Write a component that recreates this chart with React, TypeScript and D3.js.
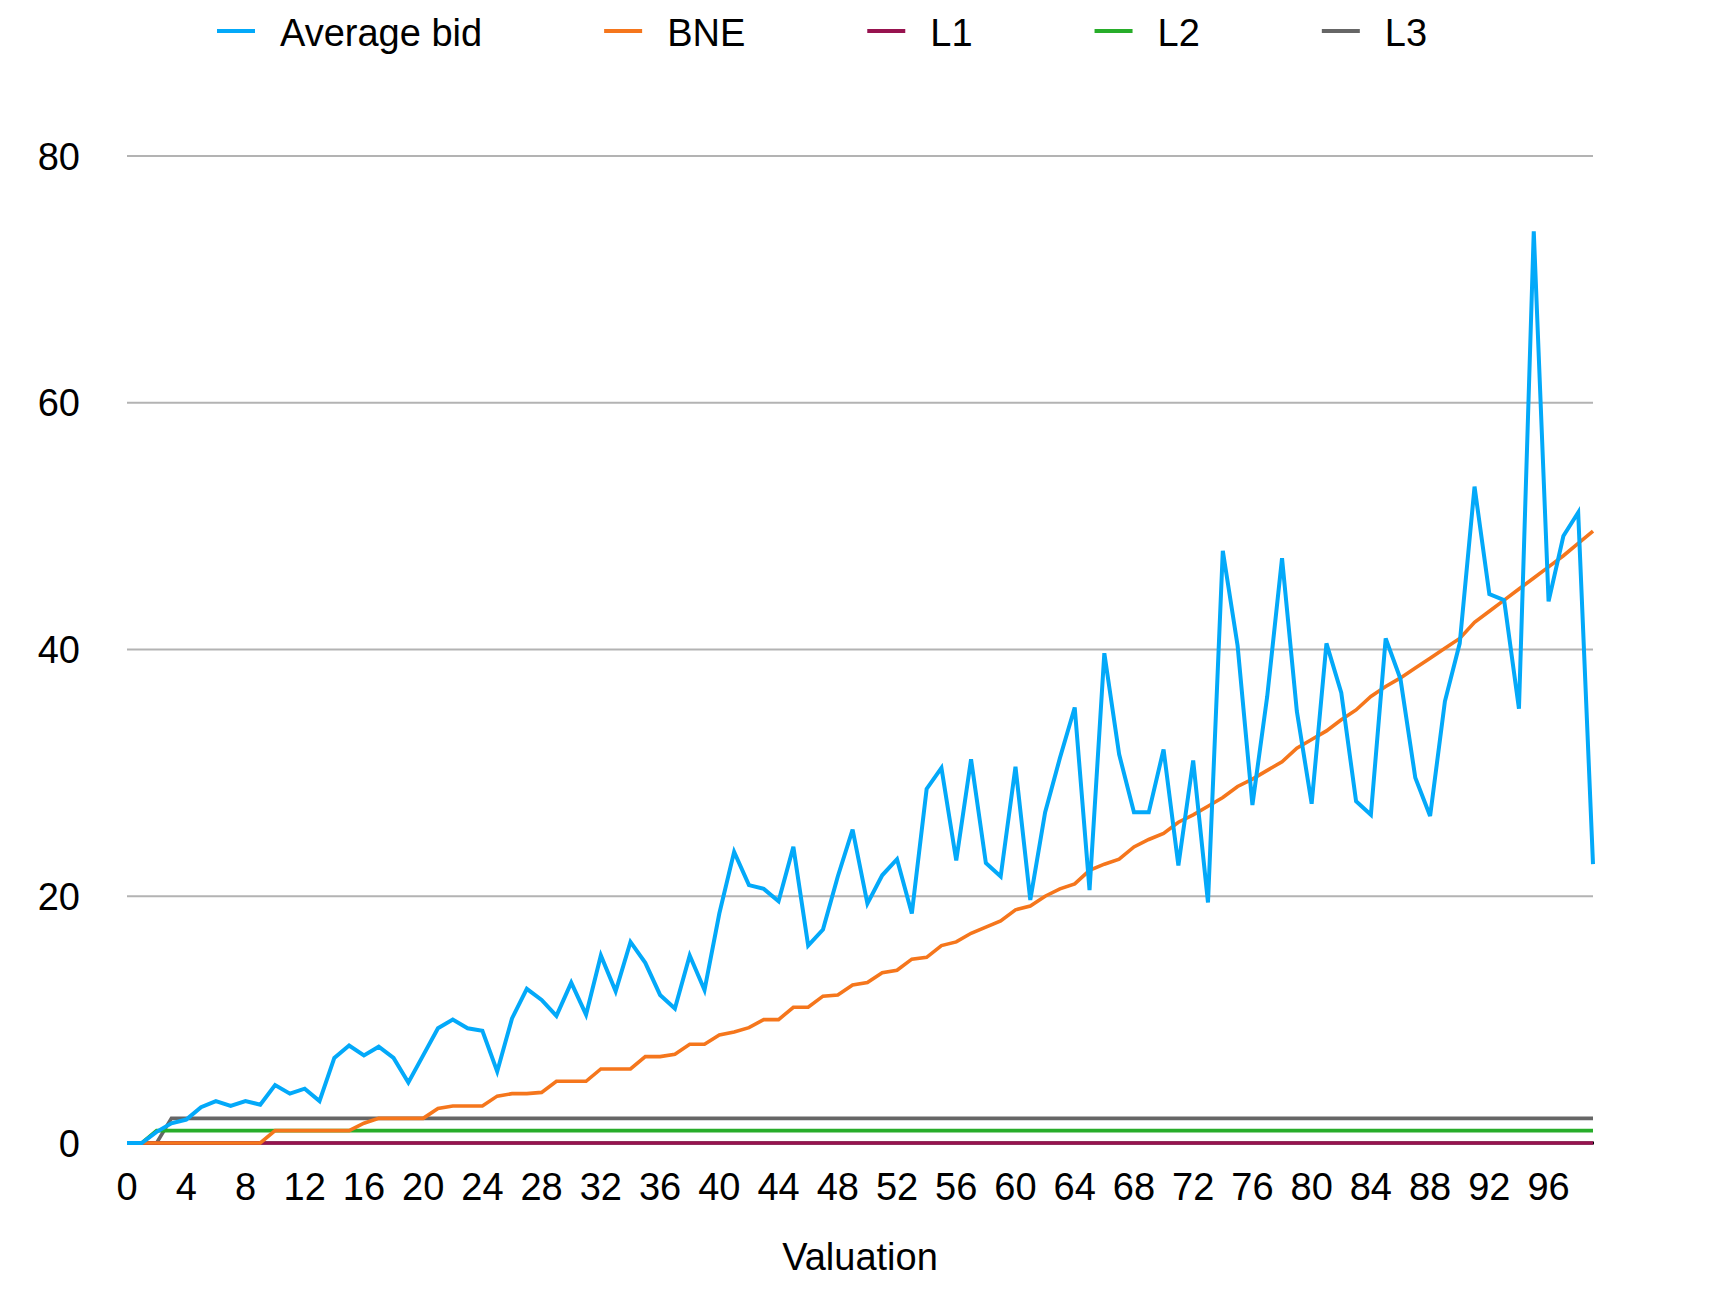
import { FC, useEffect, useRef } from 'react';
import * as d3 from 'd3';

// valuations 0..99
const valuations = d3.range(0, 100);

const averageBid = [
  0, 0, 0.9, 1.6, 1.9, 2.9, 3.4, 3.0, 3.4, 3.1,
  4.7, 4.0, 4.4, 3.4, 6.9, 7.9, 7.1, 7.8, 6.9, 4.9,
  7.1, 9.3, 10.0, 9.3, 9.1, 5.8, 10.1, 12.5, 11.6, 10.3,
  13.0, 10.4, 15.2, 12.3, 16.3, 14.6, 12.0, 10.9, 15.2, 12.4,
  18.6, 23.6, 20.9, 20.6, 19.6, 24.0, 16.0, 17.3, 21.6, 25.4,
  19.4, 21.7, 23.0, 18.6, 28.7, 30.4, 22.9, 31.1, 22.7, 21.6,
  30.5, 19.7, 26.8, 31.2, 35.3, 20.5, 39.7, 31.5, 26.8, 26.8,
  31.9, 22.5, 31.0, 19.5, 48.0, 40.3, 27.4, 36.2, 47.4, 35.0,
  27.5, 40.5, 36.5, 27.7, 26.6, 40.9, 37.6, 29.6, 26.5, 35.8,
  40.5, 53.2, 44.5, 44.0, 35.2, 73.9, 43.9, 49.2, 51.1, 22.6,
];

const bne = [
  0, 0, 0, 0, 0, 0, 0, 0, 0, 0,
  1, 1, 1, 1, 1, 1, 1.6, 2, 2, 2,
  2, 2.8, 3, 3, 3, 3.8, 4, 4, 4.1, 5,
  5, 5, 6, 6, 6, 7, 7, 7.2, 8, 8,
  8.75, 9.0, 9.35, 10, 10, 11, 11, 11.9, 12, 12.8,
  13, 13.8, 14, 14.9, 15.05, 16, 16.3, 17, 17.5, 18,
  18.9, 19.2, 20, 20.6, 21, 22.1, 22.6, 23, 24, 24.6,
  25.1, 26, 26.6, 27.3, 28, 28.9, 29.5, 30.2, 30.9, 32,
  32.7, 33.4, 34.3, 35.1, 36.2, 37, 37.7, 38.5, 39.3, 40.1,
  40.9, 42.2, 43.1, 44, 44.9, 45.8, 46.7, 47.6, 48.6, 49.6,
];

const l1 = valuations.map(() => 0);
const l2 = valuations.map((v) => (v < 2 ? 0 : 1));
const l3 = valuations.map((v) => (v < 3 ? 0 : 2));

const seriesNames = ['Average bid', 'BNE', 'L1', 'L2', 'L3'];
const seriesColors = ['#03a9f9', '#f5761c', '#97134f', '#28ad2a', '#666666'];
const seriesValues = [averageBid, bne, l1, l2, l3];

const xTicks = d3.range(0, 100, 4);
const yTicks = [0, 20, 40, 60, 80];

const width = 1730;
const height = 1296;
const margin = { top: 156, right: 137, bottom: 153, left: 127 };
const font = '"Liberation Sans", Arial, Helvetica, sans-serif';

const Chart: FC = () => {
  const svgRef = useRef<SVGSVGElement | null>(null);

  useEffect(() => {
    if (!svgRef.current) return;
    const svg = d3.select(svgRef.current);
    svg.selectAll('*').remove();

    const x = d3
      .scaleLinear()
      .domain([0, 99])
      .range([margin.left, width - margin.right]);

    const y = d3
      .scaleLinear()
      .domain([0, 80])
      .range([height - margin.bottom, margin.top]);

    // gridlines
    svg.append('g')
      .selectAll('line')
      .data(yTicks.filter((t) => t > 0))
      .enter()
      .append('line')
      .attr('x1', x(0))
      .attr('x2', x(99))
      .attr('y1', (d) => y(d))
      .attr('y2', (d) => y(d))
      .attr('stroke', '#b3b3b3')
      .attr('stroke-width', 2);

    // baseline
    svg.append('line')
      .attr('x1', x(0))
      .attr('x2', x(99) + 1)
      .attr('y1', y(0))
      .attr('y2', y(0))
      .attr('stroke', '#000')
      .attr('stroke-width', 3);

    // y labels
    svg.append('g')
      .selectAll('text')
      .data(yTicks)
      .enter()
      .append('text')
      .attr('x', 80)
      .attr('y', (d) => y(d))
      .attr('dy', '0.36em')
      .attr('text-anchor', 'end')
      .attr('font-family', font)
      .attr('font-size', 38)
      .attr('fill', '#000')
      .text((d) => d);

    // x labels
    svg.append('g')
      .selectAll('text')
      .data(xTicks)
      .enter()
      .append('text')
      .attr('x', (d) => x(d))
      .attr('y', 1200)
      .attr('text-anchor', 'middle')
      .attr('font-family', font)
      .attr('font-size', 38)
      .attr('fill', '#000')
      .text((d) => d);

    svg.append('text')
      .attr('x', (x(0) + x(99)) / 2)
      .attr('y', 1270)
      .attr('text-anchor', 'middle')
      .attr('font-family', font)
      .attr('font-size', 38)
      .attr('fill', '#000')
      .text('Valuation');

    const line = d3.line<number>()
      .x((_, i) => x(valuations[i]))
      .y((d) => y(d));

    // draw the flat lines first, average bid last (on top)
    [4, 3, 2, 1, 0].forEach((k) => {
      svg.append('path')
        .datum(seriesValues[k])
        .attr('fill', 'none')
        .attr('stroke', seriesColors[k])
        .attr('stroke-width', k === 0 ? 4 : 3.6)
        .attr('stroke-linejoin', 'miter')
        .attr('d', line);
    });

    // legend
    const legend = svg.append('g');
    let lx = 217;
    seriesNames.forEach((name, k) => {
      legend.append('line')
        .attr('x1', lx)
        .attr('x2', lx + 38)
        .attr('y1', 31)
        .attr('y2', 31)
        .attr('stroke', seriesColors[k])
        .attr('stroke-width', 4);
      const t = legend.append('text')
        .attr('x', lx + 63)
        .attr('y', 46)
        .attr('font-family', font)
        .attr('font-size', 38)
        .attr('fill', '#000')
        .text(name);
      const w = (t.node() as SVGTextElement).getComputedTextLength();
      lx = lx + 63 + w + 122;
    });
  }, []);

  return (
    <svg
      ref={svgRef}
      width={width}
      height={height}
      style={{ position: 'absolute', left: 0, top: 0, background: '#fff' }}
    />
  );
};

export default function App() {
  return <Chart />;
}
